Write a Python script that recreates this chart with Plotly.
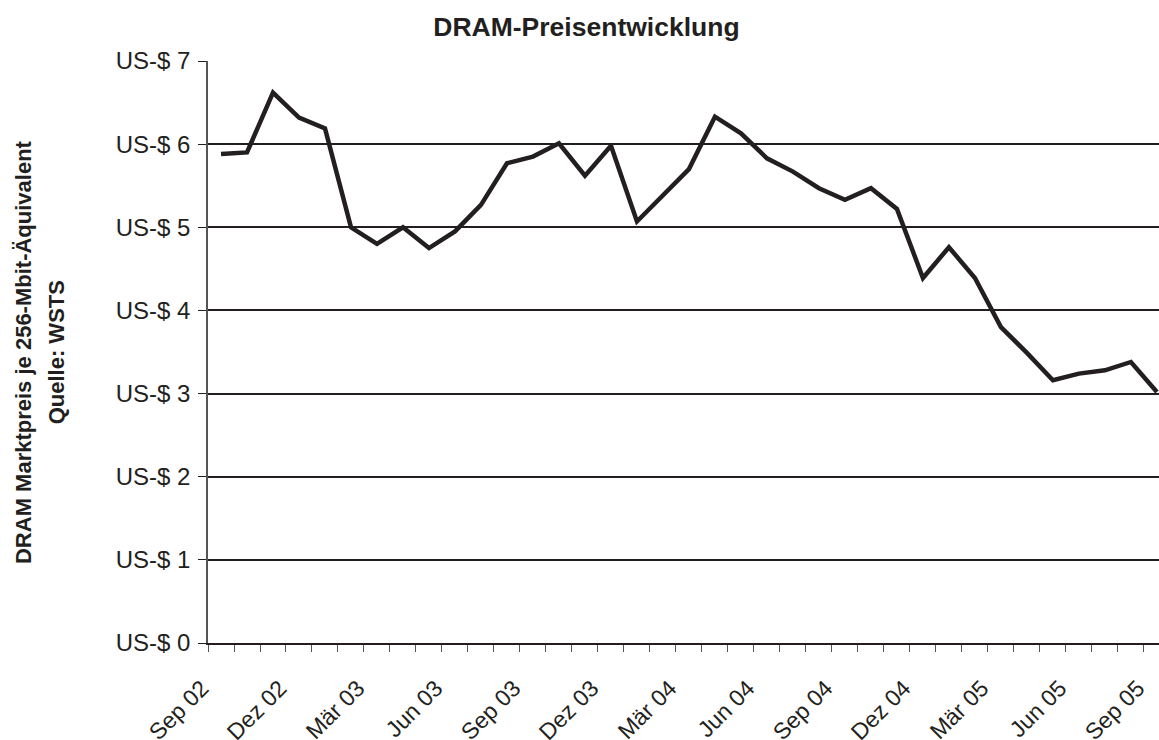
import plotly.graph_objects as go

months = ["Sep 02", "Okt 02", "Nov 02", "Dez 02",
          "Jan 03", "Feb 03", "Mär 03", "Apr 03", "Mai 03", "Jun 03",
          "Jul 03", "Aug 03", "Sep 03", "Okt 03", "Nov 03", "Dez 03",
          "Jan 04", "Feb 04", "Mär 04", "Apr 04", "Mai 04", "Jun 04",
          "Jul 04", "Aug 04", "Sep 04", "Okt 04", "Nov 04", "Dez 04",
          "Jan 05", "Feb 05", "Mär 05", "Apr 05", "Mai 05", "Jun 05",
          "Jul 05", "Aug 05", "Sep 05"]

prices = [5.88, 5.90, 6.62, 6.32, 6.19, 5.00, 4.80, 5.00, 4.75, 4.95,
          5.27, 5.77, 5.85, 6.01, 5.62, 5.98, 5.07, 5.39, 5.70, 6.33,
          6.13, 5.83, 5.67, 5.47, 5.33, 5.47, 5.22, 4.39, 4.76, 4.39,
          3.80, 3.49, 3.16, 3.24, 3.28, 3.38, 3.02]

y_ticks = [0, 1, 2, 3, 4, 5, 6, 7]
y_labels = ["US-$ %d" % v for v in y_ticks]

y_title_lines = ["DRAM Marktpreis je 256-Mbit-Äquivalent", "Quelle: WSTS"]

idx = list(range(len(months)))
label_idx = idx[::3]
label_txt = [months[i] for i in label_idx]

INK = "#231f20"
FONT = "Liberation Sans, Arial, sans-serif"

fig = go.Figure()
fig.add_trace(go.Scatter(
    x=idx, y=prices, mode="lines",
    line=dict(color=INK, width=4.5),
    customdata=months,
    hovertemplate="%{customdata}: US-$ %{y:.2f}<extra></extra>",
    cliponaxis=False,
))

fig.update_layout(
    width=1159, height=740,
    margin=dict(l=208, r=0, t=61, b=97, autoexpand=False),
    paper_bgcolor="white", plot_bgcolor="white",
    showlegend=False,
    font=dict(family=FONT, color=INK),
    title=dict(text="<b>DRAM-Preisentwicklung</b>",
               font=dict(size=26.5, family=FONT, color=INK),
               x=0.506, xanchor="center", y=0.964, yanchor="middle",
               xref="container", yref="container"),
)

# two-line y-axis title as rotated annotations (for the wider line spacing)
for line_txt, xp in zip(y_title_lines, [-0.1945, -0.1595]):
    fig.add_annotation(
        text="<b>%s</b>" % line_txt, textangle=-90,
        xref="paper", yref="paper", x=xp, y=0.5,
        xanchor="center", yanchor="middle", showarrow=False,
        font=dict(size=22, family=FONT, color=INK),
    )

fig.update_xaxes(
    range=[-0.5, 36.08], automargin=False,
    tickmode="array", tickvals=label_idx, ticktext=label_txt,
    tickangle=-45, ticks="", showgrid=False, zeroline=False,
    tickfont=dict(size=23, family=FONT, color=INK),
    ticklabeloverflow="allow",
    showline=True, linecolor=INK, linewidth=1.5,
    minor=dict(ticks="outside", tick0=-0.5, dtick=1, ticklen=7,
               tickcolor="#555555", tickwidth=1.2, showgrid=False),
    ticklabelstandoff=21, ticklabelshift=-19,
)

fig.update_yaxes(
    range=[0, 7], automargin=False,
    tickmode="array", tickvals=y_ticks, ticktext=y_labels,
    ticks="outside", ticklen=8, tickcolor=INK, tickwidth=1.2,
    showgrid=True, gridcolor=INK, gridwidth=1.5,
    zeroline=False,
    showline=True, linecolor="#555555", linewidth=1.5,
    tickfont=dict(size=24, family=FONT, color=INK),
    ticklabelstandoff=3,
)

fig.write_html("out.html", config={"displayModeBar": False},
               post_script="document.body.style.margin='0';document.body.style.overflow='hidden';")
